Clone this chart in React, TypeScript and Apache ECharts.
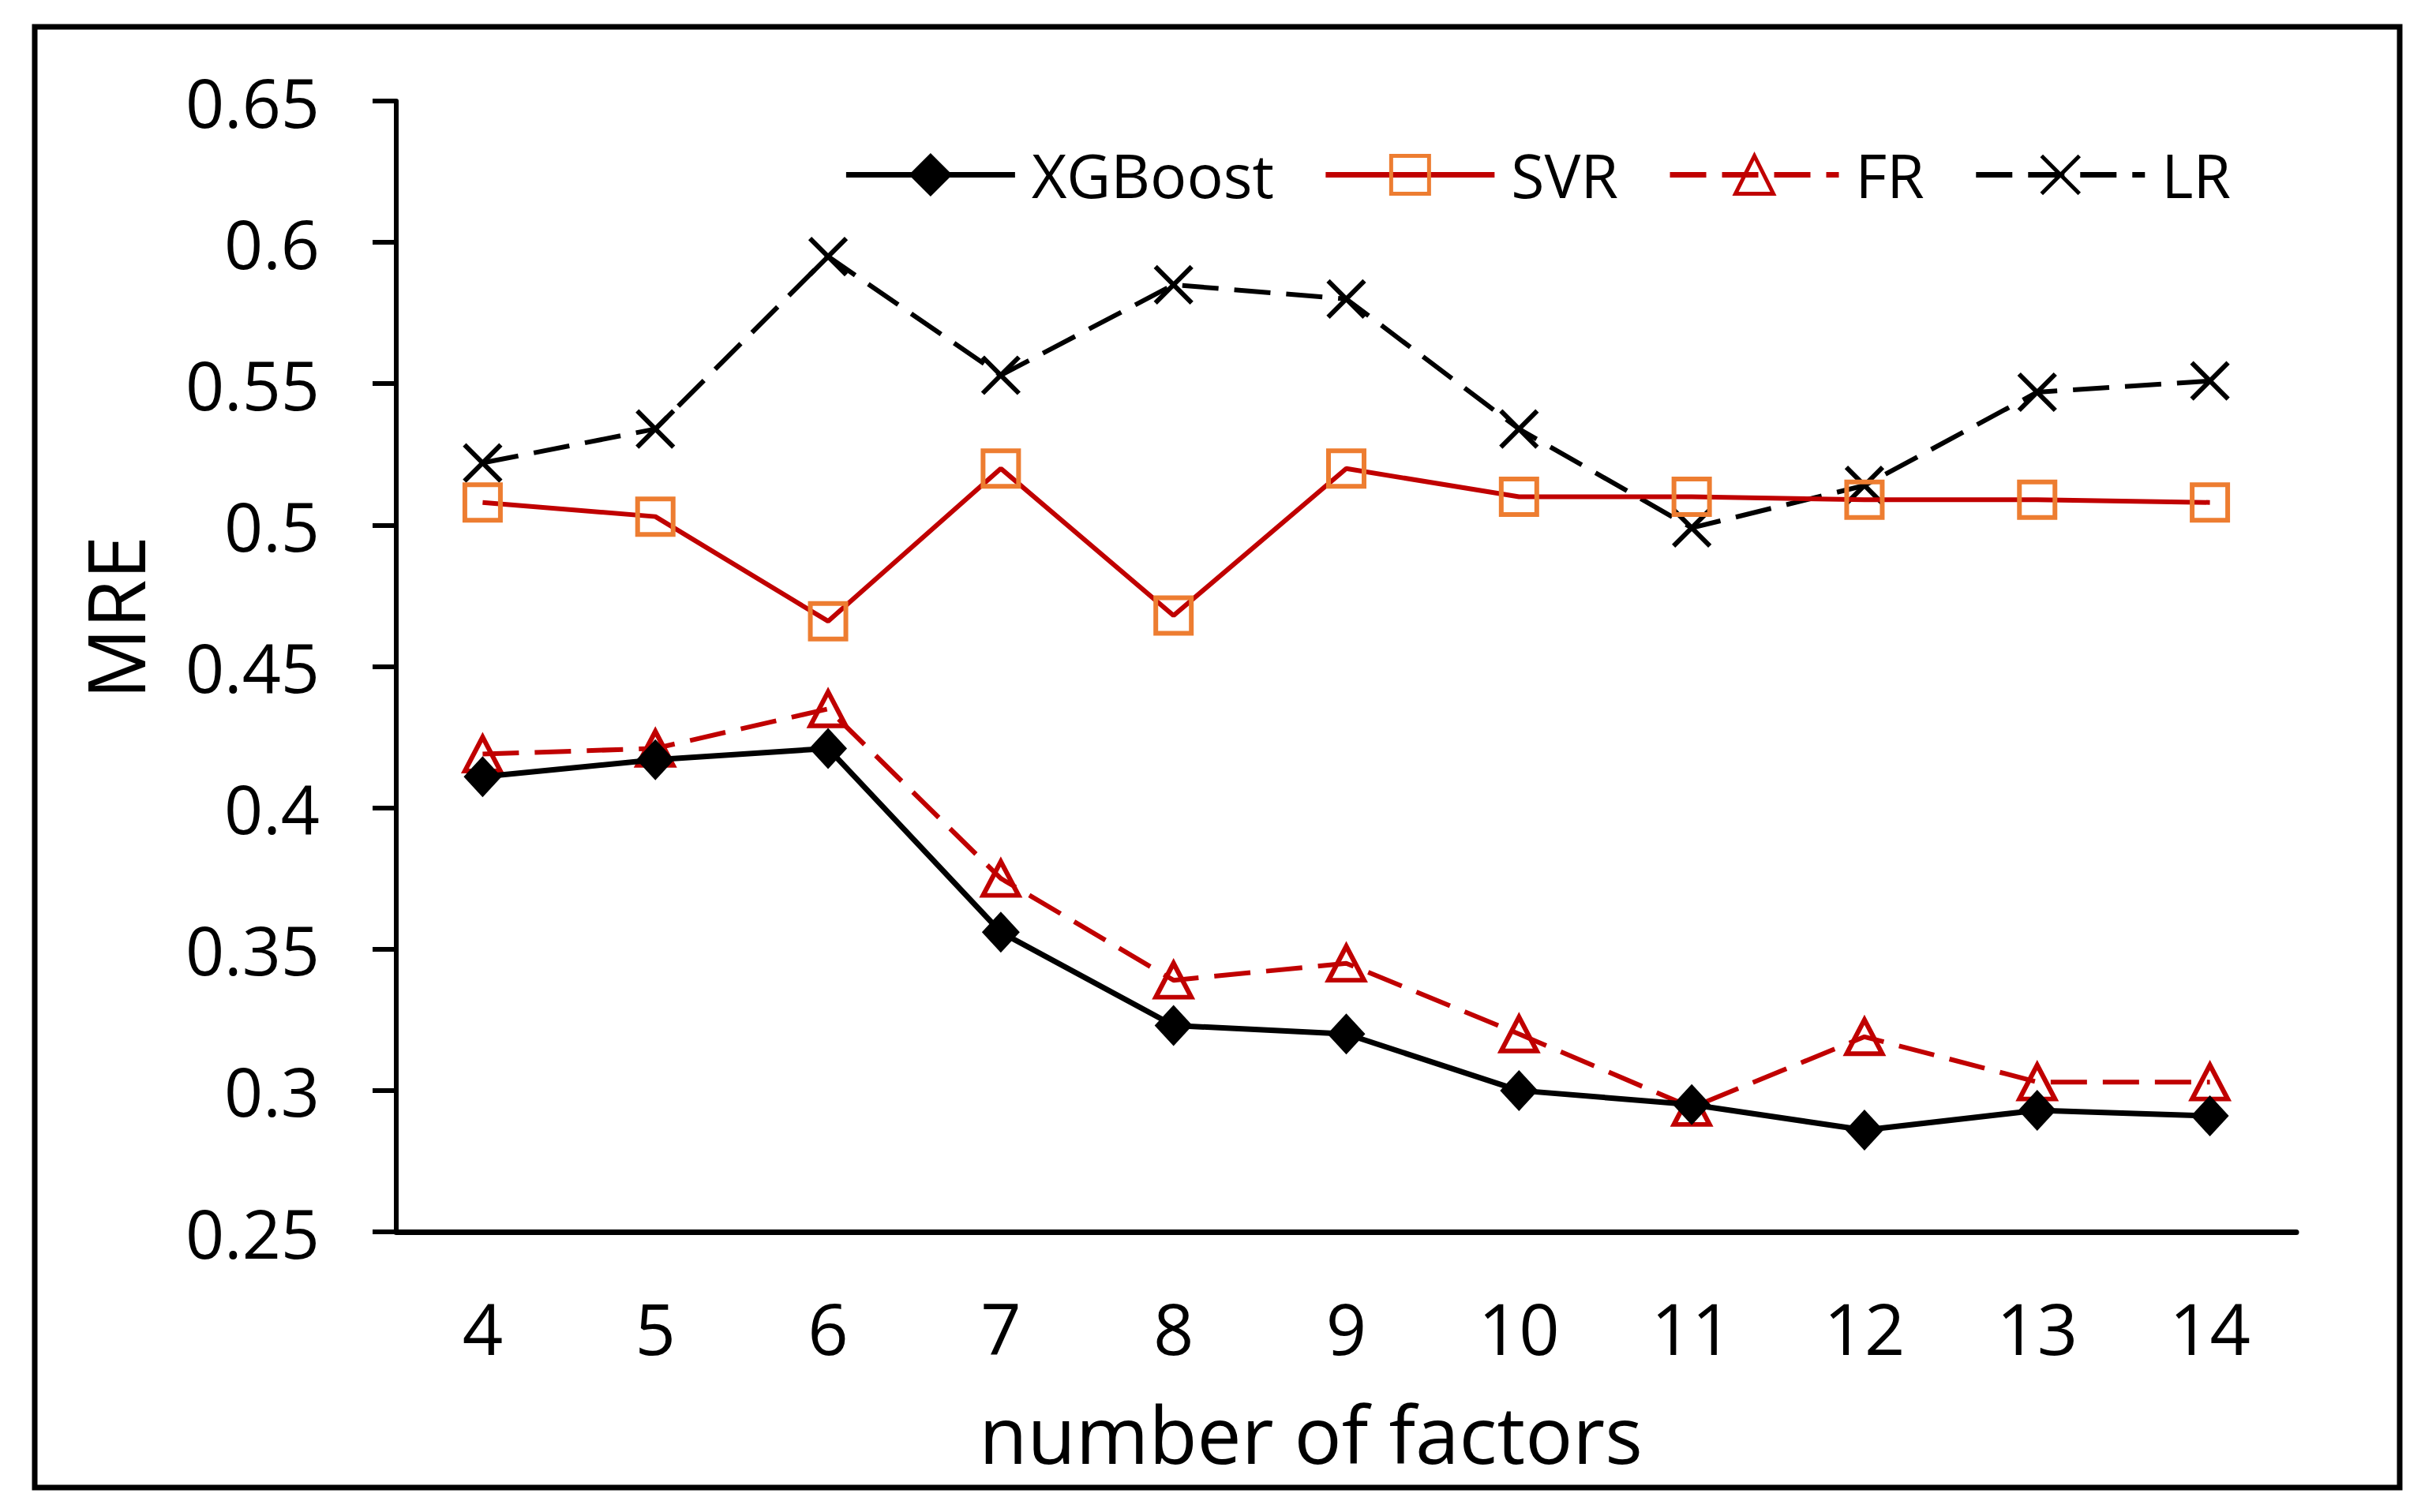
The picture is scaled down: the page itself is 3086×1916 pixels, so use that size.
import React from "react";
import * as echarts from "echarts";

const factors = ["4", "5", "6", "7", "8", "9", "10", "11", "12", "13", "14"];
const xgboost = [0.411, 0.417, 0.421, 0.356, 0.323, 0.32, 0.3, 0.295, 0.286, 0.293, 0.291];
const svr = [0.508, 0.503, 0.466, 0.52, 0.468, 0.52, 0.51, 0.51, 0.509, 0.509, 0.508];
const fr = [0.419, 0.421, 0.435, 0.375, 0.339, 0.345, 0.32, 0.294, 0.319, 0.303, 0.303];
const lr = [0.522, 0.534, 0.595, 0.553, 0.585, 0.58, 0.534, 0.499, 0.514, 0.547, 0.551];

const FONT = "'Open Sans', 'Noto Sans', sans-serif";
const CROSS = "path://M0,0L10,10M10,0L0,10";
const HOLLOW = "rgba(255,255,255,0)";

export default function App() {
  const ref = React.useRef<HTMLDivElement>(null);

  React.useEffect(() => {
    document.body.style.margin = "0";
    if (!ref.current) return;
    const chart = echarts.init(ref.current, undefined, { renderer: "svg" });

    const option: echarts.EChartsOption = {
      animation: false,
      backgroundColor: "#fff",
      textStyle: { fontFamily: FONT, color: "#000" },
      graphic: [
        {
          type: "rect",
          shape: { x: 44, y: 34, width: 2996, height: 1851 },
          style: { fill: "none", stroke: "#000", lineWidth: 7 },
        },
      ],
      legend: {
        top: 178,
        right: 255,
        itemWidth: 214,
        itemHeight: 60,
        itemGap: 62,
        lineStyle: { width: 7 },
        itemStyle: { borderWidth: 5 },
        textStyle: { fontFamily: FONT, fontSize: 77, color: "#000", padding: [0, 0, 0, 16] },
        data: ["XGBoost", "SVR", "FR", "LR"],
      },
      grid: { left: 502, right: 177, top: 128, bottom: 355 },
      xAxis: {
        type: "category",
        data: factors,
        boundaryGap: true,
        name: "number of factors",
        nameLocation: "middle",
        nameGap: 205,
        nameTextStyle: { fontFamily: FONT, fontSize: 100, color: "#000", padding: [0, 90, 0, 0] },
        axisLine: { lineStyle: { color: "#000", width: 7 } },
        axisTick: { show: false },
        axisLabel: { fontFamily: FONT, fontSize: 90, color: "#000", margin: 76 },
        splitLine: { show: false },
      },
      yAxis: {
        type: "value",
        min: 0.25,
        max: 0.65,
        interval: 0.05,
        name: "MRE",
        nameLocation: "middle",
        nameGap: 307,
        nameRotate: 90,
        nameTextStyle: { fontFamily: FONT, fontSize: 100, color: "#000", padding: [0, 0, 0, 124] },
        axisLine: { show: true, lineStyle: { color: "#000", width: 6 } },
        axisTick: { show: true, length: 30, lineStyle: { color: "#000", width: 6 } },
        axisLabel: {
          fontFamily: FONT,
          fontSize: 86,
          color: "#000",
          margin: 97,
          formatter: (v: number) => String(Math.round(v * 100) / 100),
        },
        splitLine: { show: false },
      },
      series: [
        {
          name: "XGBoost",
          type: "line",
          data: xgboost,
          symbol: "diamond",
          symbolSize: [48, 52],
          lineStyle: { color: "#000", width: 7 },
          itemStyle: { color: "#000", borderColor: "#000", borderWidth: 0 },
          z: 4,
        },
        {
          name: "SVR",
          type: "line",
          data: svr,
          symbol: "rect",
          symbolSize: 45,
          lineStyle: { color: "#C00000", width: 6 },
          itemStyle: { color: HOLLOW, borderColor: "#ED7D31", borderWidth: 6 },
          z: 3,
        },
        {
          name: "FR",
          type: "line",
          data: fr,
          symbol: "triangle",
          symbolSize: [45, 43],
          lineStyle: { color: "#C00000", width: 6, type: [46, 20] },
          itemStyle: { color: HOLLOW, borderColor: "#C00000", borderWidth: 6 },
          z: 3,
        },
        {
          name: "LR",
          type: "line",
          data: lr,
          symbol: CROSS,
          symbolSize: 46,
          lineStyle: { color: "#000", width: 6, type: [46, 20] },
          itemStyle: { color: "#000", borderColor: "#000", borderWidth: 6 },
          z: 2,
        },
      ],
    };

    chart.setOption(option);
    const onResize = () => chart.resize();
    window.addEventListener("resize", onResize);
    return () => {
      window.removeEventListener("resize", onResize);
      chart.dispose();
    };
  }, []);

  return <div ref={ref} style={{ width: 3086, height: 1916 }} />;
}
